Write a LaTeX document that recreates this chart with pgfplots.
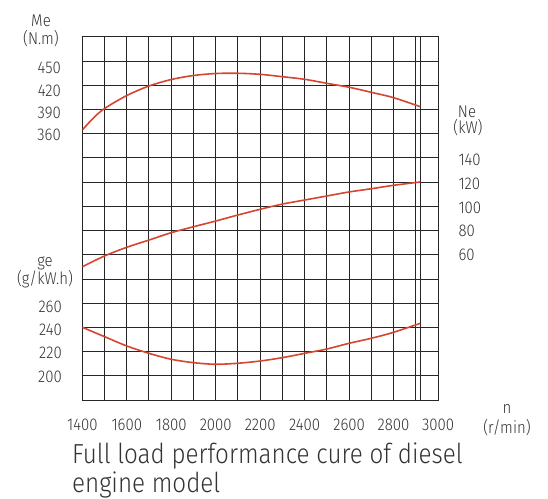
\documentclass[border=0pt]{standalone}
\usepackage{fontspec}
\setmainfont{Fira Sans Light}[FakeStretch=0.88]
\usepackage{pgfplots}
\pgfplotsset{compat=1.18}
\definecolor{gridc}{HTML}{262626}
\definecolor{curve}{HTML}{D5452F}
\definecolor{txt}{HTML}{333333}
\begin{document}
\begin{tikzpicture}[x=1pt,y=1pt]
\path[use as bounding box] (0,0) rectangle (548,498);
\pgfplotsset{common/.style={at={(82.3pt,98pt)}, anchor=south west, scale only axis,
  width=355.7pt, height=363pt, xmin=1400, xmax=3000,
  font=\fontsize{17}{20}\selectfont,
  /pgf/number format/assume math mode=true,
  /pgf/number format/1000 sep={},
  tick style={draw=none}, major tick length=0pt, minor tick length=0pt}}
% grid
\begin{axis}[common, ymin=0, ymax=15,
  xtick={1400,1600,...,3000}, minor xtick={1500,1700,...,2900,2920},
  ytick={0,...,15}, yticklabels={},
  grid=both, major grid style={gridc, line width=1pt}, minor grid style={gridc, line width=1pt},
  axis line style={gridc, line width=1pt},
  xticklabel style={txt, yshift=-15pt}]
\end{axis}
% Me
\begin{axis}[common, ymin=3.6, ymax=491.8, axis line style={draw=none}, xtick=\empty,
  ytick={360,390,420,450}, yticklabel style={txt, xshift=-18pt}]
\addplot[curve, line width=1.6pt, smooth] coordinates {
(1400,366.7) (1450,382.9) (1500,395.6) (1600,413.1) (1700,425.9) (1800,434.6) (1900,440)
(2000,442.7) (2100,443) (2200,441.6) (2300,438.4) (2400,434.9) (2500,429.5)
(2600,424.2) (2700,417.4) (2800,410.2) (2920,398.1)};
\end{axis}
% Ne
\begin{axis}[common, ymin=-62.1, ymax=243.6, axis line style={draw=none}, xtick=\empty,
  yticklabel pos=right, ytick={60,80,...,140}, yticklabel style={txt, xshift=17pt}]
\addplot[curve, line width=1.6pt, smooth] coordinates {
(1400,50.1) (1500,59.2) (1600,66.5) (1700,72.6) (1800,78.8) (1900,83.8)
(2000,88.6) (2100,93.7) (2200,98.5) (2300,102.9) (2400,106.3) (2500,109.7)
(2600,113.1) (2700,115.8) (2800,118.7) (2920,121.5)};
\end{axis}
% ge
\begin{axis}[common, ymin=180, ymax=491.1, axis line style={draw=none}, xtick=\empty,
  ytick={200,220,240,260}, yticklabel style={txt, xshift=-17pt}]
\addplot[curve, line width=1.6pt, smooth] coordinates {
(1400,242.3) (1500,234.3) (1600,226.3) (1700,220) (1800,214.9) (1900,212)
(2000,210.6) (2100,211.5) (2200,213.4) (2300,216.3) (2400,220) (2500,223.7)
(2600,228.6) (2700,232.9) (2800,238) (2920,245.7)};
\end{axis}
\begin{scope}[every node/.style={txt, font=\fontsize{17}{20}\selectfont, anchor=base, inner sep=0pt}]
\node at (41,471) {Me};
\node at (41,453) {(N.m)};
\node at (467,380) {Ne};
\node at (468,364) {(kW)};
\node at (45,231) {ge};
\node at (45,213) {(g/kW.h)};
\node at (507,85) {n};
\node at (507,65) {(r/min)};
\end{scope}
\node[txt, anchor=base west, inner sep=0pt, font=\fontsize{27.5}{32}\selectfont] at (72,35) {Full load performance cure of diesel};
\node[txt, anchor=base west, inner sep=0pt, font=\fontsize{27.5}{32}\selectfont] at (72,6) {engine model};
\end{tikzpicture}
\end{document}
